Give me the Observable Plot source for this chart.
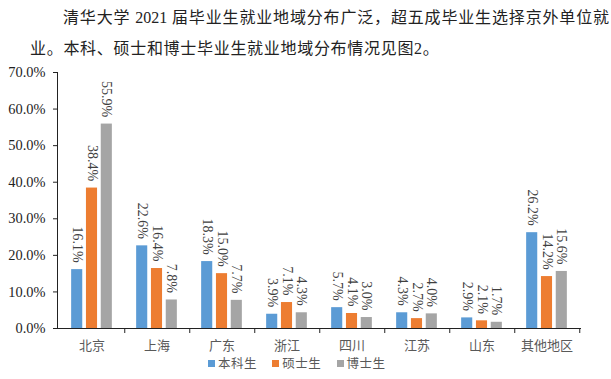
<!DOCTYPE html>
<html><head><meta charset="utf-8">
<script src="https://cdn.jsdelivr.net/npm/d3@7"></script>
<script src="https://cdn.jsdelivr.net/npm/@observablehq/plot@0.6"></script>
<style>
body{margin:0;background:#fff;width:611px;height:379px;overflow:hidden;position:relative;font-family:"Noto Sans CJK SC",sans-serif;}
.l{position:absolute;font-size:16px;line-height:20px;color:#222;font-family:"Liberation Serif","Noto Sans CJK SC",serif;}
#l1{left:63px;top:8px;width:546px;text-align:justify;text-align-last:justify;text-justify:inter-character;}
#l2{left:30px;top:39px;white-space:nowrap;letter-spacing:0.7px;}
#chart{position:absolute;left:0;top:60px;}
#chart svg [aria-label^="x-axis"] text{font-family:"Noto Sans CJK SC",sans-serif;fill:#595959;font-size:13px;}
.lg{position:absolute;top:355px;font-size:12.5px;line-height:16px;color:#595959;letter-spacing:0.5px;white-space:nowrap;}
.lg span{display:inline-block;width:7px;height:7px;margin-right:3px;vertical-align:1px;}
</style></head>
<body>
<div class="l" id="l1">清华大学 2021 届毕业生就业地域分布广泛，超五成毕业生选择京外单位就</div>
<div class="l" id="l2">业。本科、硕士和博士毕业生就业地域分布情况见图2。</div>
<div id="chart"></div>
<div id="legend"></div>
<script>
const regions = ["北京","上海","广东","浙江","四川","江苏","山东","其他地区"];
const series = ["本科生","硕士生","博士生"];
const undergrad = [16.1,22.6,18.3,3.9,5.7,4.3,2.9,26.2];
const master = [38.4,16.4,15.0,7.1,4.1,2.7,2.1,14.2];
const phd = [55.9,7.8,7.7,4.3,3.0,4.0,1.7,15.6];
const yTicks = [0,10,20,30,40,50,60,70];
const colors = ["#5B9BD5","#ED7D31","#A5A5A5"];

const values = [undergrad, master, phd];
const W = 611, mL = 57, mR = 30;
const bw = (W - mL - mR) / regions.length;
const barW = 11.6, stride = 14.8;

const marks = [];
series.forEach((s, k) => {
  const data = regions.map((r, i) => ({region: r, series: s, value: values[k][i] / 100}));
  const center = bw / 2 + (k - 1) * stride;
  marks.push(Plot.barY(data, {
    x: "region", y: "value", fill: colors[k],
    insetLeft: center - barW / 2, insetRight: bw - center - barW / 2
  }));
  marks.push(Plot.text(data, {
    x: "region", y: "value", text: d => d3.format(".1f")(d.value * 100) + "%",
    rotate: 90, textAnchor: "end", lineAnchor: "middle",
    dx: (k - 1) * stride, dy: -7, fontSize: 14, fill: "#404040",
    fontFamily: "Liberation Serif"
  }));
});
marks.push(Plot.ruleY([0], {stroke: "#222"}));
marks.push(Plot.ruleX(regions, {x: d => d, dx: bw / 2, insetTop: 256, insetBottom: -5, stroke: "#222"}));

const chart = Plot.plot({
  width: W, height: 294,
  marginLeft: mL, marginRight: mR, marginTop: 12, marginBottom: 26,
  style: {fontFamily: "Liberation Serif", fontSize: "14.4px", color: "#222", background: "white"},
  x: {domain: regions, padding: 0, tickSize: 0, tickPadding: 12, label: null},
  y: {domain: [0, 0.7], ticks: yTicks.map(t => t / 100), tickFormat: d3.format(".1%"), tickSize: 4, tickPadding: 8, line: true, label: null},
  marks
});
document.getElementById("chart").appendChild(chart);

const lg = document.getElementById("legend");
series.forEach((s, k) => {
  const d = document.createElement("div");
  d.className = "lg";
  d.style.left = (208 + k * 64.3) + "px";
  d.innerHTML = `<span style="background:${colors[k]}"></span>${s}`;
  lg.appendChild(d);
});
</script>
</body></html>
